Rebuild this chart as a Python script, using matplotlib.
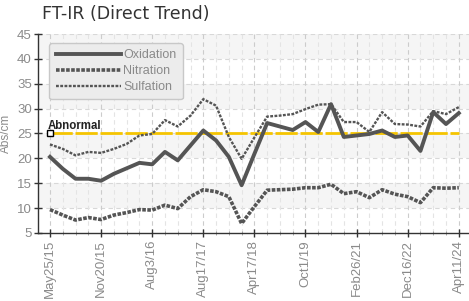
import numpy as np
import matplotlib.pyplot as plt

dates = ['May25/15', '', '', '', 'Nov20/15', '', '', '', 'Aug3/16', '', '', '',
         'Aug17/17', '', '', '', 'Apr17/18', '', '', '', 'Oct1/19', '', '', '',
         'Feb26/21', '', '', '', 'Dec16/22', '', '', '', 'Apr11/24']

oxidation = [20.3, 17.9, 15.9, 15.9, 15.5, 16.9, 18.0, 19.1, 18.8, 21.3, 19.6,
             22.6, 25.6, 23.6, 20.3, 14.6, 20.9, 27.1, 26.4, 25.7, 27.3, 25.3,
             30.9, 24.3, 24.6, 24.9, 25.6, 24.3, 24.6, 21.5, 29.3, 26.9, 29.1]
nitration = [9.7, 8.6, 7.6, 8.1, 7.7, 8.6, 9.1, 9.7, 9.6, 10.6, 9.9, 12.3,
             13.7, 13.3, 12.3, 6.9, 10.3, 13.6, 13.7, 13.8, 14.1, 14.1, 14.8,
             12.9, 13.3, 12.1, 13.7, 12.8, 12.3, 11.1, 14.1, 14.0, 14.1]
sulfation = [22.8, 21.9, 20.6, 21.3, 21.1, 21.9, 22.9, 24.6, 24.9, 27.7, 26.4,
             28.6, 31.9, 30.6, 24.3, 19.9, 24.2, 28.4, 28.6, 28.9, 29.9, 30.8,
             30.9, 27.3, 27.3, 25.3, 29.3, 26.9, 26.8, 26.4, 29.5, 28.9, 30.3]
abnormal = 25

narrow = 'Liberation Sans'
grey_txt = '#8a8a8a'
line_col = '#555555'

x = np.arange(len(dates))

fig = plt.figure(figsize=(4.69, 3.01), dpi=100)
ax = fig.add_axes([0.081, 0.226, 0.919, 0.661])

# alternating background bands
for lo in range(5, 45, 10):
    ax.axhspan(lo + 5, lo + 10, color='#f5f5f5', lw=0, zorder=0)

# grid
for yv in range(10, 50, 5):
    ax.axhline(yv, color='#d8d8d8', lw=0.8, ls=(0, (4, 3)), zorder=1)
for xi in x:
    major = xi % 4 == 0
    ax.axvline(xi, color='#cccccc' if major else '#e4e4e4', lw=0.8,
               ls=(0, (4, 3)), zorder=1)

ax.plot(x, oxidation, color=line_col, lw=2.8, label='Oxidation', zorder=4)
ax.plot(x, nitration, color=line_col, lw=2.6, ls=(0, (1, 0.4)),
        label='Nitration', zorder=4)
ax.plot(x, sulfation, color=line_col, lw=1.7, ls=(0, (1.2, 0.6)),
        label='Sulfation', zorder=4)

ax.plot([x[0], x[-1]], [abnormal, abnormal], color='#f5c400', lw=2.0,
        ls=(0, (8, 1)), zorder=3)
ax.plot(x[0], abnormal, marker='s', ms=4.5, mfc='white', mec='black',
        mew=1.0, zorder=5)
ax.text(x[0] - 0.15, abnormal + 0.9, 'Abnormal', fontsize=8.3,
        fontweight='bold', color='#222222', family=narrow, zorder=5)

ax.set_xlim(-0.94, 32.8)
ax.set_ylim(5, 45)
ax.set_yticks(range(5, 50, 5))
ax.set_xticks(x[::4])
ax.set_xticklabels(dates[::4], rotation=90)
ax.set_xticks(x, minor=True)

for sp in ['top', 'right']:
    ax.spines[sp].set_visible(False)
for sp in ['left', 'bottom']:
    ax.spines[sp].set_color('#333333')
    ax.spines[sp].set_linewidth(1.0)

ax.tick_params(axis='both', which='major', direction='inout', length=6,
               width=1.0, color='#333333', labelcolor=grey_txt, labelsize=9.5)
ax.tick_params(axis='x', which='major', pad=2)
ax.tick_params(axis='y', which='major', pad=1.5)
ax.tick_params(axis='x', which='minor', direction='inout', length=3,
               width=0.6, color='#999999')
for lab in ax.get_xticklabels() + ax.get_yticklabels():
    lab.set_family(narrow)

ax.set_ylabel('Abs/cm', color=grey_txt, fontsize=8.5, family=narrow)
ax.yaxis.set_label_coords(-0.06, 0.5)

leg = ax.legend(loc='upper left', bbox_to_anchor=(0.012, 0.985),
                handlelength=5.2, handletextpad=0.2, labelspacing=0.3,
                fancybox=True, facecolor='#ececec', edgecolor='#c8c8c8',
                framealpha=1.0, prop={'family': narrow, 'size': 9},
                borderpad=0.5)
for t in leg.get_texts():
    t.set_color(grey_txt)

fig.text(0.089, 0.955, 'FT-IR (Direct Trend)', fontsize=12.5,
         color='#333333', family='DejaVu Sans', va='center')

plt.savefig('out.png', dpi=100)
